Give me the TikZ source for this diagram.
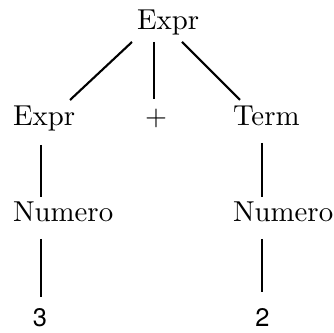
\documentclass[tikz,border=0pt]{standalone}
\usepackage{fontspec}
\newfontfamily\digitfont{TeX Gyre Heros}
\begin{document}
\begin{tikzpicture}[x=0.354pt,y=-0.354pt,
  lbl/.style={anchor=base west,inner sep=0pt,font=\fontsize{10.2}{12}\selectfont},
  sym/.style={anchor=base,inner sep=0pt,font=\fontsize{10.2}{12}\selectfont},
  dig/.style={anchor=base,inner sep=0pt,font=\digitfont\fontsize{9}{10}\selectfont},
  edge/.style={line width=0.75pt}]
\useasboundingbox (0,0) rectangle (334,333);
% nodes
\node[lbl] (root) at (136.5,30) {Expr};
\node[lbl] (expr) at (12.5,126) {Expr};
\node[sym] (plus) at (156,126) {$+$};
\node[lbl] (term) at (232.5,126) {Term};
\node[lbl] (numL) at (12.5,222) {Numero};
\node[lbl] (numR) at (232.5,222) {Numero};
\node[dig] (three) at (40,327) {3};
\node[dig] (two) at (262.5,327) {2};
% connector end points
\coordinate (rL) at (132,42);
\coordinate (rM) at (154,42);
\coordinate (rR) at (182,42);
\coordinate (eT) at (70,100);
\coordinate (pT) at (154,99);
\coordinate (tT) at (240,100);
\coordinate (eB) at (41,145);
\coordinate (nLT) at (41,197);
\coordinate (tB) at (262,143);
\coordinate (nRT) at (262,197);
\coordinate (nLB) at (41,239);
\coordinate (thT) at (41,297);
\coordinate (nRB) at (262,239);
\coordinate (twT) at (262,292);
% connectors
\draw[edge] (rL) -- (eT);
\draw[edge] (rM) -- (pT);
\draw[edge] (rR) -- (tT);
\draw[edge] (eB) -- (nLT);
\draw[edge] (tB) -- (nRT);
\draw[edge] (nLB) -- (thT);
\draw[edge] (nRB) -- (twT);
\end{tikzpicture}
\end{document}
